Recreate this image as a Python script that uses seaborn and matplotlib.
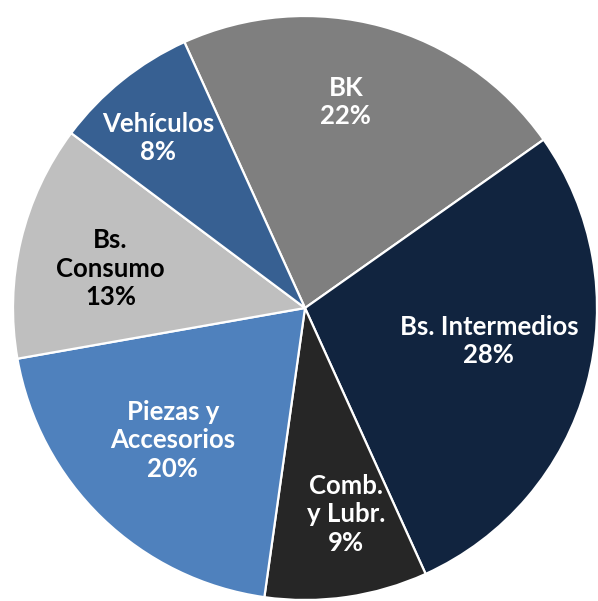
import numpy as np
import seaborn as sns
import matplotlib.pyplot as plt

sns.set_theme(style="white")
plt.rcParams['font.family'] = ['Lato', 'DejaVu Sans']

# slice data, clockwise from the top-left boundary
categories = ["BK", "Bs. Intermedios", "Comb.\ny Lubr.", "Piezas y\nAccesorios", "Bs.\nConsumo", "Vehículos"]
shares = [22, 28, 9, 20, 13, 8]
colors = ["#7f7f7f", "#11243f", "#262626", "#4f81bd", "#bfbfbf", "#376092"]
text_colors = ["white", "white", "white", "white", "black", "white"]
# label placement: distance from centre and angular nudge (deg) from the slice middle
label_dist = [0.72, 0.64, 0.72, 0.64, 0.68, 0.77]
label_nudge = [4, 5, 3, -1, 2, 2]

W, H = 598, 601
fig = plt.figure(figsize=(W / 100, H / 100), dpi=100)
cx, cy, r = 305, 308, 292
ax = fig.add_axes([(cx - r) / W, (H - cy - r) / H, 2 * r / W, 2 * r / H])

wedges, _ = ax.pie(shares, colors=colors, startangle=114.4, counterclock=False,
                   wedgeprops=dict(edgecolor="white", linewidth=1.6))
ax.set_xlim(-1, 1)
ax.set_ylim(-1, 1)
ax.set_aspect("auto")
ax.axis("off")

for w, cat, val, tc, d, n in zip(wedges, categories, shares, text_colors, label_dist, label_nudge):
    ang = np.deg2rad((w.theta1 + w.theta2) / 2 + n)
    ax.text(d * np.cos(ang), d * np.sin(ang), f"{cat}\n{val}%", ha="center", va="center",
            color=tc, fontsize=18.5, fontweight="bold", linespacing=1.22)

fig.savefig("out.png", dpi=100)
